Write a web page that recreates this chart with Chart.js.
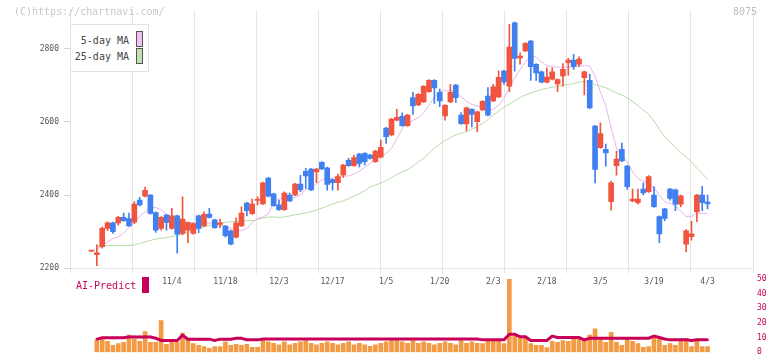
<!DOCTYPE html>
<html>
<head>
<meta charset="utf-8">
<script src="https://cdn.jsdelivr.net/npm/chart.js@4.4.1/dist/chart.umd.min.js"></script>
<style>
  body { margin: 0; background: #fff; }
  #wrap { position: relative; width: 772px; height: 361px; overflow: hidden; font-family: 'DejaVu Sans Mono', monospace; }
  #wrap canvas { position: absolute; left: 0; }
  .txt { position: absolute; font-size: 10px; line-height: 12px; white-space: pre; }
</style>
</head>
<body>
<div id="wrap">
  <canvas id="volChart" width="772" height="91" style="top:270px"></canvas>
  <canvas id="priceChart" width="772" height="290" style="top:0"></canvas>
  <div class="txt" style="left:14px;top:6px;color:#c8c8c8">(C)https://chartnavi.com/</div>
  <div class="txt" style="left:733px;top:6px;color:#bdbdbd">8075</div>
  <div style="position:absolute;left:70px;top:24px;width:77px;height:46px;border:1px solid #e2e2e2;background:#fff"></div>
  <div class="txt" style="left:70px;width:59px;top:35px;text-align:right;color:#444">5-day MA</div>
  <div class="txt" style="left:70px;width:59px;top:51px;text-align:right;color:#444">25-day MA</div>
  <div style="position:absolute;left:136px;top:31px;width:5px;height:14px;border:1px solid #555;background:#f0c0f0"></div>
  <div style="position:absolute;left:136px;top:48px;width:5px;height:14px;border:1px solid #555;background:#c2e2b2"></div>
  <div class="txt" style="left:76px;top:280px;color:#c8005a">AI-Predict</div>
  <div style="position:absolute;left:142px;top:277px;width:7px;height:16px;background:#c8005a"></div>
</div>
<script>
// trading days shown on the chart
const dates = [
  '10/10','10/14','10/15','10/16','10/17','10/20','10/21','10/22','10/23','10/24',
  '10/27','10/28','10/29','10/30','10/31','11/4','11/5','11/6','11/7','11/10',
  '11/11','11/12','11/13','11/14','11/17','11/18','11/19','11/20','11/21','11/25',
  '11/26','11/27','11/28','12/1','12/2','12/3','12/4','12/5','12/8','12/9',
  '12/10','12/11','12/12','12/15','12/16','12/17','12/18','12/19','12/22','12/23',
  '12/24','12/25','12/26','12/29','12/30','1/5','1/6','1/7','1/8','1/9',
  '1/13','1/14','1/15','1/16','1/19','1/20','1/21','1/22','1/23','1/26',
  '1/27','1/28','1/29','1/30','2/2','2/3','2/4','2/5','2/6','2/9',
  '2/10','2/12','2/13','2/16','2/17','2/18','2/19','2/20','2/24','2/25',
  '2/26','2/27','3/2','3/3','3/4','3/5','3/6','3/9','3/10','3/11',
  '3/12','3/13','3/16','3/17','3/18','3/19','3/23','3/24','3/25','3/26',
  '3/27','3/30','3/31','4/1','4/2','4/3'
];
const tickDates = ['11/4','11/18','12/3','12/17','1/5','1/20','2/3','2/18','3/5','3/19','4/3'];
const priceTicks = [2200, 2400, 2600, 2800];

const opens = [
  2247,2237,2259,2309,2324,2324,2339,2336,2326,2386,
  2397,2400,2352,2309,2345,2309,2343,2295,2304,2295,
  2343,2316,2348,2332,2320,2315,2302,2285,2316,2378,
  2349,2385,2376,2446,2403,2373,2360,2400,2400,2430,
  2465,2471,2463,2489,2474,2442,2434,2455,2495,2480,
  2512,2514,2509,2491,2503,2583,2564,2604,2615,2589,
  2666,2646,2654,2682,2713,2680,2616,2654,2700,2618,
  2594,2634,2600,2632,2670,2657,2668,2738,2697,2870,
  2774,2793,2820,2757,2736,2708,2716,2703,2725,2761,
  2768,2757,2720,2713,2588,2529,2525,2382,2480,2525,
  2479,2384,2379,2416,2409,2400,2341,2362,2416,2414,
  2375,2266,2286,2354,2400,2381
];
const highs = [
  2248,2264,2313,2327,2326,2342,2351,2351,2382,2394,
  2422,2401,2354,2341,2347,2364,2345,2395,2326,2324,
  2345,2354,2364,2334,2334,2317,2304,2338,2368,2380,
  2389,2395,2435,2448,2405,2386,2409,2405,2432,2454,
  2473,2473,2473,2491,2476,2444,2457,2484,2500,2509,
  2514,2516,2511,2522,2550,2585,2609,2634,2624,2620,
  2680,2677,2699,2715,2715,2689,2647,2702,2702,2625,
  2640,2636,2629,2658,2693,2702,2739,2740,2866,2872,
  2788,2816,2822,2759,2738,2747,2747,2717,2759,2773,
  2784,2777,2738,2730,2590,2597,2539,2438,2520,2542,
  2481,2416,2416,2433,2453,2423,2343,2364,2418,2416,
  2400,2306,2329,2402,2424,2400
];
const lows = [
  2246,2207,2255,2303,2295,2318,2328,2314,2322,2370,
  2395,2348,2298,2304,2304,2307,2241,2291,2270,2293,
  2297,2314,2337,2309,2311,2285,2264,2283,2314,2343,
  2347,2373,2374,2395,2369,2358,2358,2382,2398,2409,
  2418,2412,2434,2469,2413,2413,2413,2448,2478,2478,
  2477,2482,2498,2489,2501,2541,2562,2602,2587,2587,
  2620,2644,2652,2680,2650,2641,2604,2652,2653,2593,
  2575,2586,2573,2630,2616,2655,2666,2702,2682,2738,
  2757,2791,2713,2713,2706,2706,2714,2682,2697,2727,
  2743,2750,2673,2636,2433,2527,2479,2359,2454,2491,
  2415,2382,2375,2400,2407,2366,2270,2330,2386,2357,
  2368,2245,2277,2327,2357,2362
];
const closes = [
  2248,2242,2309,2324,2300,2339,2330,2316,2375,2373,
  2413,2350,2304,2339,2325,2343,2293,2334,2325,2322,
  2309,2347,2339,2311,2324,2289,2266,2324,2351,2357,
  2375,2388,2433,2397,2371,2360,2405,2384,2430,2414,
  2452,2414,2471,2471,2429,2434,2450,2482,2480,2502,
  2486,2491,2500,2520,2530,2559,2607,2612,2589,2618,
  2643,2675,2697,2713,2692,2657,2645,2680,2666,2595,
  2638,2620,2627,2656,2618,2695,2721,2709,2804,2773,
  2779,2814,2750,2733,2708,2722,2736,2715,2743,2768,
  2750,2771,2736,2638,2470,2568,2515,2433,2498,2493,
  2423,2389,2389,2406,2450,2368,2294,2336,2391,2375,
  2398,2302,2294,2400,2379,2376
];
const ma5 = [
  null,2253,2261,2273,2281,2286,2296,2311,2325,2343,
  2354,2366,2366,2360,2348,2340,2332,2329,2325,2324,
  2321,2321,2324,2322,2318,2314,2309,2304,2303,2309,
  2324,2336,2340,2348,2381,2390,2391,2391,2394,2400,
  2416,2421,2430,2441,2444,2445,2452,2452,2452,2457,
  2465,2476,2486,2495,2505,2514,2528,2553,2581,2595,
  2604,2611,2624,2645,2667,2682,2685,2685,2681,2668,
  2656,2647,2643,2639,2634,2634,2645,2664,2692,2719,
  2743,2763,2779,2776,2764,2753,2750,2749,2749,2749,
  2750,2752,2753,2752,2724,2681,2643,2583,2528,2508,
  2490,2463,2445,2438,2431,2419,2400,2382,2377,2370,
  2356,2341,2341,2350,2350,2350
];
const ma25 = [
  null,2261,2261,2262,2262,2262,2262,2262,2264,2268,
  2272,2276,2280,2282,2284,2287,2289,2294,2299,2305,
  2309,2313,2317,2320,2323,2325,2327,2328,2329,2330,
  2330,2333,2337,2340,2340,2339,2340,2343,2346,2349,
  2351,2355,2359,2364,2370,2375,2380,2384,2390,2397,
  2404,2412,2422,2427,2433,2439,2448,2456,2463,2469,
  2479,2490,2500,2514,2528,2539,2549,2557,2564,2569,
  2573,2580,2587,2595,2606,2618,2629,2639,2648,2658,
  2666,2673,2679,2683,2688,2691,2694,2697,2700,2702,
  2704,2708,2710,2707,2701,2697,2693,2686,2679,2673,
  2665,2655,2644,2632,2621,2602,2580,2559,2544,2531,
  2516,2504,2490,2473,2459,2443
];
const volume = [
  null,8.4,8.9,7.4,4.7,5.9,6.8,11.6,8.9,7.4,
  14.1,6.8,6.8,21.6,5.3,7.4,6.8,13,8.9,5.9,
  4.7,3.9,2.6,3.9,3.9,7,4.7,5.3,4.7,5.3,
  3.3,3.3,9,7,6,5,7,5,6,7,
  8,6,5,6,7,6,5,6,7,5,
  6,5,4,5,6,7,8,9,7,6,
  8,6,7,6,5,6,7,6,5,8,
  6,7,6,5.9,7.4,7.4,8,5.9,49.7,10.9,
  9.5,10.1,5.9,4.7,4.7,3.2,7.4,6.8,8,7.4,
  10.1,8.9,7.4,11.6,15.9,8.4,6.8,13.6,6.8,4.7,
  8.9,7.4,5.9,3.3,3.9,10.1,8.9,4.7,5.9,4.7,
  7.4,9.5,3.9,7.4,3.9,3.9
];
const aiPredict = [
  null,8.9,9.8,9.8,9.8,9.8,9.8,10.4,10.4,10.4,
  10.4,10.4,9.5,8,8,8,8,11.6,8.9,8.9,
  8.9,8.9,8.9,8,8.9,8.9,8.9,9.5,9.5,8.4,
  8.4,8.4,9,9,9,9,9,9,9,9,
  9,9,9,9,9,9,9,9,9,9,
  9,9,9,9,9,9,9,9,9,9,
  9,9,9,9,9,9,9,9,9,9,
  9,9,9,8.4,8.4,8.4,8.4,8.4,12.2,12.2,
  10.5,10.5,8,8,8,8,11,10,10,10,
  10,10,8.4,9.5,9.5,9.5,9.5,9.5,9.5,9.5,
  9.5,9.5,9.5,9.5,9.5,11,10,9,8.4,8.4,
  8.4,8.4,8,8.4,8.4,8.4
];

const UP = '#f2553f';
const DOWN = '#4080f0';
const FONT = 'DejaVu Sans Mono';
const X_MIN = -4.01, X_MAX = 123.48;
const idx = dates.map((d, i) => i);
const candleColor = ctx => closes[ctx.dataIndex] >= opens[ctx.dataIndex] ? UP : DOWN;

new Chart(document.getElementById('priceChart'), {
  type: 'bar',
  data: {
    datasets: [
      {
        type: 'line', label: '5-day MA',
        data: idx.map(i => ({ x: i, y: ma5[i] })),
        borderColor: '#e8b4ea', borderWidth: 1, pointRadius: 0, order: 3
      },
      {
        type: 'line', label: '25-day MA',
        data: idx.map(i => ({ x: i, y: ma25[i] })),
        borderColor: '#b5dca5', borderWidth: 1, pointRadius: 0, order: 3
      },
      {
        label: 'wick',
        data: idx.map(i => ({ x: i, y: [lows[i], highs[i]] })),
        backgroundColor: candleColor,
        grouped: false, barPercentage: 1, categoryPercentage: 1, maxBarThickness: 1, order: 2
      },
      {
        label: 'body',
        data: idx.map(i => ({ x: i, y: [opens[i], closes[i]] })),
        backgroundColor: candleColor,
        grouped: false, barPercentage: 1, categoryPercentage: 1, maxBarThickness: 5,
        minBarLength: 1, order: 1
      }
    ]
  },
  options: {
    responsive: false,
    animation: false,
    layout: { padding: { top: 10, right: 19, left: 0, bottom: 0 } },
    plugins: { legend: { display: false }, tooltip: { enabled: false } },
    scales: {
      x: {
        type: 'linear', min: X_MIN, max: X_MAX, position: 'bottom', weight: 1, offset: false,
        grid: { display: false, drawTicks: false, offset: false }, border: { display: false },
        afterBuildTicks: s => { s.ticks = tickDates.map(d => ({ value: dates.indexOf(d) })); },
        afterFit: s => { s.height = 16.7; },
        ticks: {
          autoSkip: false, maxRotation: 0, padding: 4, color: '#555',
          font: { family: FONT, size: 8 },
          callback: v => dates[v]
        }
      },
      xg: {
        type: 'linear', min: 0, max: 11, position: 'bottom', weight: 0, offset: false,
        ticks: { display: false, stepSize: 1 },
        grid: { color: '#e4e4e4', tickLength: 5, offset: false },
        border: { color: '#e4e4e4' },
        afterFit: s => { s.height = 5; }
      },
      y: {
        min: 2200, max: 2905, position: 'left',
        afterFit: s => { s.width = 70; },
        afterBuildTicks: s => { s.ticks = priceTicks.map(v => ({ value: v })); },
        grid: { drawOnChartArea: false, tickLength: 6, color: '#d4d4d4' },
        border: { color: '#e4e4e4' },
        ticks: { padding: 5, color: '#555', font: { family: FONT, size: 8 }, callback: v => String(v) }
      }
    }
  }
});

new Chart(document.getElementById('volChart'), {
  type: 'bar',
  data: {
    datasets: [
      {
        type: 'line', label: 'AI-Predict',
        data: idx.map(i => ({ x: i, y: aiPredict[i] })),
        borderColor: '#c8005a', borderWidth: 3,
        pointStyle: 'rect', pointRadius: 1.5, pointBorderWidth: 0,
        pointBackgroundColor: '#c8005a', order: 1
      },
      {
        label: 'volume',
        data: idx.map(i => ({ x: i, y: volume[i] })),
        backgroundColor: '#f39a45',
        grouped: false, barPercentage: 1, categoryPercentage: 1, maxBarThickness: 4, order: 2
      }
    ]
  },
  options: {
    responsive: false,
    animation: false,
    layout: { padding: { top: 8.5, bottom: 2.5, left: 70, right: 0 } },
    plugins: { legend: { display: false }, tooltip: { enabled: false } },
    scales: {
      x: { type: 'linear', min: X_MIN, max: X_MAX, display: false, offset: false, grid: { offset: false } },
      y: {
        position: 'right', min: 0, max: 50,
        afterFit: s => { s.width = 19; },
        grid: { display: false, drawTicks: false }, border: { display: false },
        ticks: { stepSize: 10, padding: 4, color: '#c8005a', font: { family: FONT, size: 8 } }
      }
    }
  }
});
</script>
</body>
</html>
